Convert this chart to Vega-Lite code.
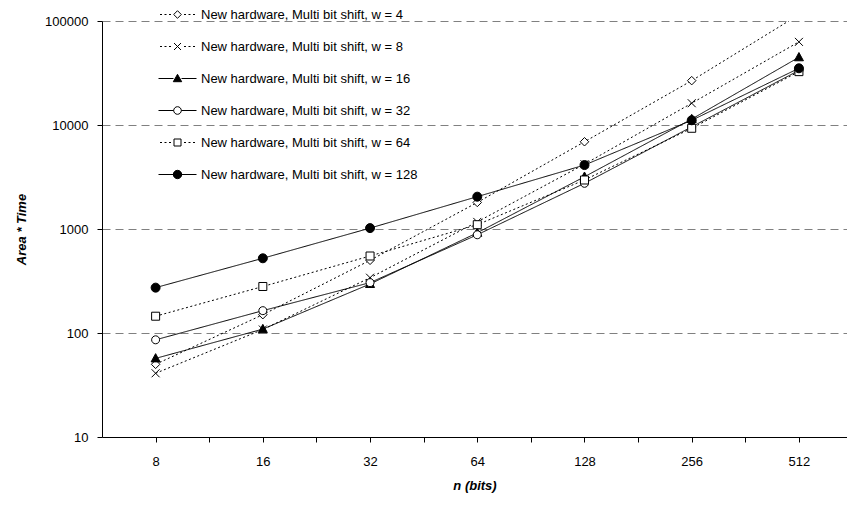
{
  "$schema": "https://vega.github.io/schema/vega-lite/v6.json",
  "width": 745,
  "height": 416,
  "autosize": {"type": "none"},
  "padding": {"left": 102, "top": 21, "right": 0, "bottom": 70},
  "background": "white",
  "config": {
    "font": "Liberation Sans",
    "view": {"stroke": null},
    "axis": {"labelColor": "black", "titleColor": "black", "tickColor": "black", "domainColor": "black", "labelFontSize": 13, "titleFontSize": 13, "titleFontWeight": "bold", "titleFontStyle": "italic", "labelFont": "Liberation Sans", "titleFont": "Liberation Sans"}
  },
  "data": {
    "values": [
      {"series": "New hardware, Multi bit shift, w = 4", "n": 8, "v": 50},
      {"series": "New hardware, Multi bit shift, w = 4", "n": 16, "v": 150},
      {"series": "New hardware, Multi bit shift, w = 4", "n": 32, "v": 500},
      {"series": "New hardware, Multi bit shift, w = 4", "n": 64, "v": 1800},
      {"series": "New hardware, Multi bit shift, w = 4", "n": 128, "v": 6900},
      {"series": "New hardware, Multi bit shift, w = 4", "n": 256, "v": 26700},
      {"series": "New hardware, Multi bit shift, w = 4", "n": 512, "v": 115000},
      {"series": "New hardware, Multi bit shift, w = 8", "n": 8, "v": 41},
      {"series": "New hardware, Multi bit shift, w = 8", "n": 16, "v": 108},
      {"series": "New hardware, Multi bit shift, w = 8", "n": 32, "v": 340},
      {"series": "New hardware, Multi bit shift, w = 8", "n": 64, "v": 1170},
      {"series": "New hardware, Multi bit shift, w = 8", "n": 128, "v": 4200},
      {"series": "New hardware, Multi bit shift, w = 8", "n": 256, "v": 16200},
      {"series": "New hardware, Multi bit shift, w = 8", "n": 512, "v": 63000},
      {"series": "New hardware, Multi bit shift, w = 16", "n": 8, "v": 57},
      {"series": "New hardware, Multi bit shift, w = 16", "n": 16, "v": 109},
      {"series": "New hardware, Multi bit shift, w = 16", "n": 32, "v": 296},
      {"series": "New hardware, Multi bit shift, w = 16", "n": 64, "v": 920},
      {"series": "New hardware, Multi bit shift, w = 16", "n": 128, "v": 3180},
      {"series": "New hardware, Multi bit shift, w = 16", "n": 256, "v": 11400},
      {"series": "New hardware, Multi bit shift, w = 16", "n": 512, "v": 44800},
      {"series": "New hardware, Multi bit shift, w = 32", "n": 8, "v": 86},
      {"series": "New hardware, Multi bit shift, w = 32", "n": 16, "v": 164},
      {"series": "New hardware, Multi bit shift, w = 32", "n": 32, "v": 305},
      {"series": "New hardware, Multi bit shift, w = 32", "n": 64, "v": 880},
      {"series": "New hardware, Multi bit shift, w = 32", "n": 128, "v": 2750},
      {"series": "New hardware, Multi bit shift, w = 32", "n": 256, "v": 9600},
      {"series": "New hardware, Multi bit shift, w = 32", "n": 512, "v": 33500},
      {"series": "New hardware, Multi bit shift, w = 64", "n": 8, "v": 145},
      {"series": "New hardware, Multi bit shift, w = 64", "n": 16, "v": 280},
      {"series": "New hardware, Multi bit shift, w = 64", "n": 32, "v": 550},
      {"series": "New hardware, Multi bit shift, w = 64", "n": 64, "v": 1100},
      {"series": "New hardware, Multi bit shift, w = 64", "n": 128, "v": 2960},
      {"series": "New hardware, Multi bit shift, w = 64", "n": 256, "v": 9300},
      {"series": "New hardware, Multi bit shift, w = 64", "n": 512, "v": 32600},
      {"series": "New hardware, Multi bit shift, w = 128", "n": 8, "v": 273},
      {"series": "New hardware, Multi bit shift, w = 128", "n": 16, "v": 523},
      {"series": "New hardware, Multi bit shift, w = 128", "n": 32, "v": 1020},
      {"series": "New hardware, Multi bit shift, w = 128", "n": 64, "v": 2046},
      {"series": "New hardware, Multi bit shift, w = 128", "n": 128, "v": 4120},
      {"series": "New hardware, Multi bit shift, w = 128", "n": 256, "v": 11100},
      {"series": "New hardware, Multi bit shift, w = 128", "n": 512, "v": 35100}
    ]
  },
  "layer": [
    {
      "mark": {"type": "line", "color": "black", "strokeWidth": 1, "clip": true},
      "encoding": {
        "x": {"field": "n", "type": "quantitative",
          "scale": {"type": "log", "base": 2, "domain": [5.656854, 698.6], "nice": false, "zero": false},
          "axis": {"title": "n (bits)", "values": [8, 11.3137085, 16, 22.627417, 32, 45.254834, 64, 90.50967, 128, 181.01934, 256, 362.03867, 512],
            "labelExpr": "indexof([8,16,32,64,128,256,512], datum.value) >= 0 ? '' + datum.value : ''",
            "grid": false, "tickSize": 5, "labelPadding": 13, "labelFlush": false, "labelOverlap": false, "titlePadding": 11}},
        "y": {"field": "v", "type": "quantitative",
          "scale": {"type": "log", "domain": [10, 100000], "nice": false, "zero": false},
          "axis": {"title": "Area * Time", "values": [10, 100, 1000, 10000, 100000], "format": "d",
            "grid": true, "gridDash": [8, 5], "gridColor": "#808080", "gridWidth": 1,
            "gridOpacity": {"condition": {"test": "datum.value == 10", "value": 0}, "value": 1},
            "tickSize": 5, "labelPadding": 9, "labelOverlap": false, "titlePadding": 16}},
        "strokeDash": {"field": "series", "type": "nominal", "legend": null,
          "scale": {"domain": ["New hardware, Multi bit shift, w = 4", "New hardware, Multi bit shift, w = 8", "New hardware, Multi bit shift, w = 16", "New hardware, Multi bit shift, w = 32", "New hardware, Multi bit shift, w = 64", "New hardware, Multi bit shift, w = 128"],
            "range": [[2, 2.5], [2, 2.5], [1, 0], [1, 0], [2, 2.5], [1, 0]]}}
      }
    },
    {
      "mark": {"type": "point", "filled": true, "stroke": "black", "strokeWidth": 1, "opacity": 1, "size": 100, "clip": true},
      "encoding": {
        "x": {"field": "n", "type": "quantitative"},
        "y": {"field": "v", "type": "quantitative"},
        "shape": {"field": "series", "type": "nominal", "legend": null,
          "scale": {"domain": ["New hardware, Multi bit shift, w = 4", "New hardware, Multi bit shift, w = 8", "New hardware, Multi bit shift, w = 16", "New hardware, Multi bit shift, w = 32", "New hardware, Multi bit shift, w = 64", "New hardware, Multi bit shift, w = 128"],
            "range": ["M0,-0.85L0.85,0L0,0.85L-0.85,0Z", "M-0.8,-0.8L0.8,0.8M-0.8,0.8L0.8,-0.8", "M0,-0.95L0.9,0.7L-0.9,0.7Z", "M0.8,0A0.8,0.8 0 1,1 -0.8,0A0.8,0.8 0 1,1 0.8,0Z", "M-0.8,-0.8H0.8V0.8H-0.8Z", "M0.9,0A0.9,0.9 0 1,1 -0.9,0A0.9,0.9 0 1,1 0.9,0Z"]}},
        "fill": {"field": "series", "type": "nominal", "legend": null,
          "scale": {"domain": ["New hardware, Multi bit shift, w = 4", "New hardware, Multi bit shift, w = 8", "New hardware, Multi bit shift, w = 16", "New hardware, Multi bit shift, w = 32", "New hardware, Multi bit shift, w = 64", "New hardware, Multi bit shift, w = 128"],
            "range": ["white", "white", "black", "white", "white", "black"]}}
      }
    },
    {
      "transform": [{"filter": "false"}],
      "mark": {"type": "point", "filled": false, "stroke": "black", "strokeWidth": 1, "opacity": 1},
      "encoding": {
        "shape": {"field": "series", "type": "nominal",
          "scale": {"domain": ["New hardware, Multi bit shift, w = 4", "New hardware, Multi bit shift, w = 8", "New hardware, Multi bit shift, w = 16", "New hardware, Multi bit shift, w = 32", "New hardware, Multi bit shift, w = 64", "New hardware, Multi bit shift, w = 128"],
            "range": [
              "M-1.75,0h0.2M-1.3,0h0.2M-0.85,0h0.2M0.65,0h0.2M1.1,0h0.2M1.55,0h0.2M0,-0.38L0.38,0L0,0.38L-0.38,0Z",
              "M-1.75,0h0.2M-1.3,0h0.2M-0.85,0h0.2M0.65,0h0.2M1.1,0h0.2M1.55,0h0.2M-0.35,-0.35L0.35,0.35M-0.35,0.35L0.35,-0.35",
              "M-1.9,0H-0.4M0.4,0H1.9M0,-0.42L0.42,0.32L-0.42,0.32Z",
              "M-1.9,0H-0.38M0.38,0H1.9M0.38,0A0.38,0.38 0 1,1 -0.38,0A0.38,0.38 0 1,1 0.38,0Z",
              "M-1.75,0h0.2M-1.3,0h0.2M-0.85,0h0.2M0.65,0h0.2M1.1,0h0.2M1.55,0h0.2M-0.35,-0.35H0.35V0.35H-0.35Z",
              "M-1.9,0H1.9M0.42,0A0.42,0.42 0 1,1 -0.42,0A0.42,0.42 0 1,1 0.42,0Z"
            ]},
          "legend": {"orient": "none", "legendX": 65, "legendY": -17, "title": null, "symbolSize": 400, "labelFontSize": 13, "labelFont": "Liberation Sans", "labelColor": "black", "labelOffset": 13, "rowPadding": 14, "padding": 0, "symbolStrokeWidth": 1, "labelLimit": 400}},
        "fill": {"field": "series", "type": "nominal",
          "scale": {"domain": ["New hardware, Multi bit shift, w = 4", "New hardware, Multi bit shift, w = 8", "New hardware, Multi bit shift, w = 16", "New hardware, Multi bit shift, w = 32", "New hardware, Multi bit shift, w = 64", "New hardware, Multi bit shift, w = 128"],
            "range": ["white", "white", "black", "white", "white", "black"]},
          "legend": {"orient": "none", "legendX": 65, "legendY": -17, "title": null, "symbolSize": 400, "labelFontSize": 13, "labelFont": "Liberation Sans", "labelColor": "black", "labelOffset": 13, "rowPadding": 14, "padding": 0, "symbolStrokeWidth": 1, "labelLimit": 400}}
      }
    }
  ],
  "resolve": {"scale": {"shape": "independent", "fill": "independent"}}
}
